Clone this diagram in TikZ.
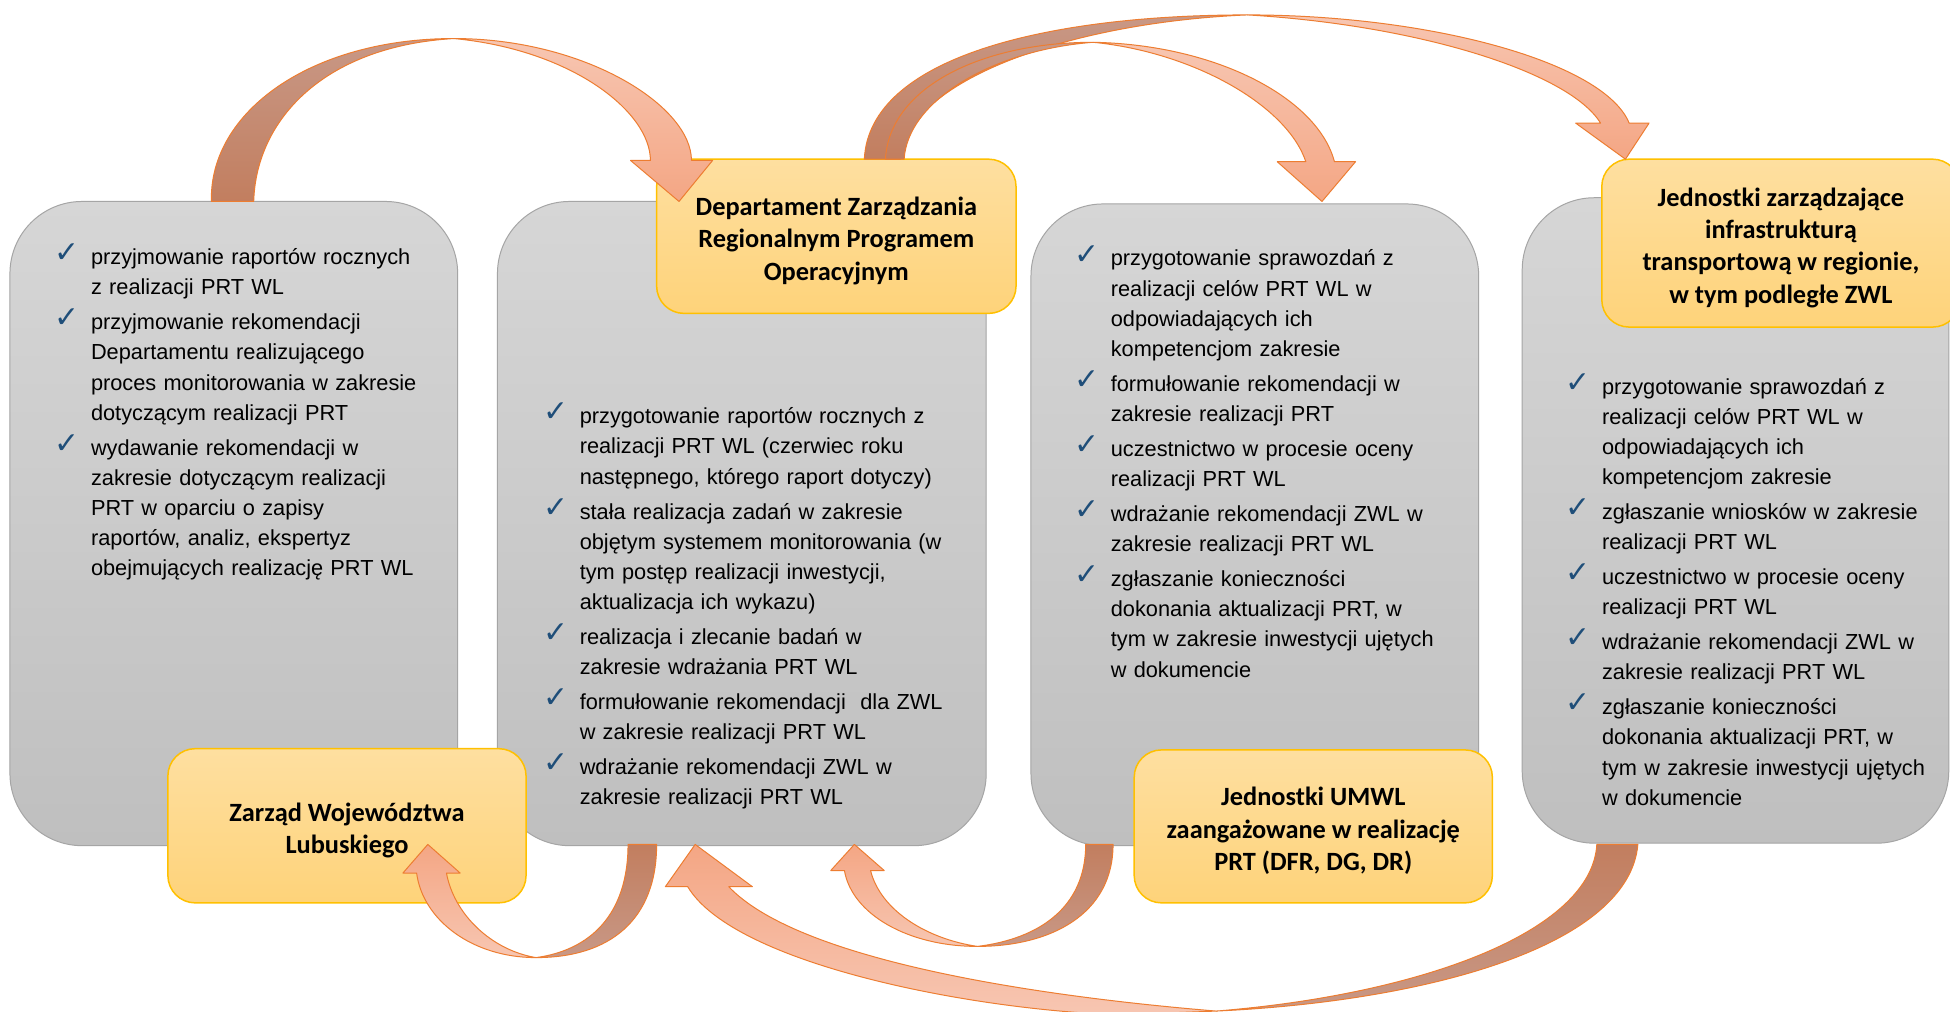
\documentclass[tikz,border=0pt]{standalone}
\usepackage{fontspec}
\setmainfont{Liberation Sans}
\newfontfamily\calib{Carlito}
\newfontfamily\dejavu{DejaVu Sans}
\definecolor{grayTop}{RGB}{214,214,214}
\definecolor{grayBot}{RGB}{191,191,191}
\definecolor{grayBorder}{RGB}{165,165,165}
\definecolor{yelTop}{RGB}{254,223,160}
\definecolor{yelBot}{RGB}{254,211,122}
\definecolor{goldLine}{RGB}{255,192,0}
\definecolor{chkblue}{RGB}{31,78,121}
\definecolor{arrLine}{RGB}{237,125,49}
\definecolor{lightTop}{RGB}{247,198,178}
\definecolor{lightBot}{RGB}{244,166,132}
\definecolor{darkFar}{RGB}{200,152,134}
\definecolor{darkTail}{RGB}{194,126,95}
\newcommand{\chk}{\leavevmode\llap{\raisebox{1.5pt}{\textcolor{chkblue}{\dejavu\fontsize{24}{24}\selectfont ✓}}\hspace{9pt}}\rule{0pt}{14pt}}
\newcommand{\ytop}{\rule{0pt}{22pt}}
\begin{document}
\begin{tikzpicture}[x=1pt,y=-1pt,
  graybox/.style={draw=grayBorder, line width=0.8pt, rounded corners=58pt, top color=grayTop, bottom color=grayBot, inner sep=0pt},
  yelbox/.style={draw=goldLine, line width=1.2pt, rounded corners=22pt, top color=yelTop, bottom color=yelBot, inner sep=0pt, align=center, font=\calib\bfseries\fontsize{21.2}{26}\selectfont},
  txt/.style={anchor=north west, inner sep=0pt, align=left, text width=330pt, font=\fontsize{17.5}{24.2}\selectfont},
  arrlight/.style={draw=arrLine, line width=0.8pt, line join=round, top color=lightTop, bottom color=lightBot},
  arrlightup/.style={draw=arrLine, line width=0.8pt, line join=round, top color=lightBot, bottom color=lightTop},
  arrdark/.style={draw=arrLine, line width=0.8pt, line join=round, top color=darkFar, bottom color=darkTail},
  arrdarkup/.style={draw=arrLine, line width=0.8pt, line join=round, top color=darkTail, bottom color=darkFar}]
\useasboundingbox (0,0) rectangle (1568,813);
\fill[white] (0,0) rectangle (1568,813);

% gray boxes
\node[graybox, minimum width=360pt, minimum height=518pt] (A) at (188,421) {};
\node[graybox, minimum width=393pt, minimum height=518pt] (B) at (596.5,421) {};
\node[graybox, minimum width=360pt, minimum height=516pt] (C) at (1009,422) {};
\node[graybox, minimum width=343pt, minimum height=519pt] (D) at (1395.5,418.5) {};

% yellow boxes
\node[yelbox, minimum width=289pt, minimum height=124pt] (Y1) at (672.5,190) {\ytop Departament Zarządzania\\Regionalnym Programem\\Operacyjnym};
\node[yelbox, minimum width=288pt, minimum height=135pt] (Y2) at (1432,195.5) {\ytop Jednostki zarządzające\\infrastrukturą\\transportową w regionie,\\w tym podległe ZWL};
\node[yelbox, minimum width=288pt, minimum height=124pt] (Y3) at (279,664) {\ytop Zarząd Województwa\\Lubuskiego};
\node[yelbox, minimum width=288pt, minimum height=123pt] (Y4) at (1056,664.5) {\ytop Jednostki UMWL\\zaangażowane w realizację\\PRT (DFR, DG, DR)};

% texts
\node[txt] (tA) at (73,196) {\chk przyjmowanie raportów rocznych\\ z realizacji PRT WL\\[4pt]
\chk przyjmowanie rekomendacji\\ Departamentu realizującego\\ proces monitorowania w zakresie\\ dotyczącym realizacji PRT\\[4pt]
\chk wydawanie rekomendacji w\\ zakresie dotyczącym realizacji\\ PRT w oparciu o zapisy\\ raportów, analiz, ekspertyz\\ obejmujących realizację PRT WL};

\node[txt] (tB) at (466,324) {\chk przygotowanie raportów rocznych z\\ realizacji PRT WL (czerwiec roku\\ następnego, którego raport dotyczy)\\[4pt]
\chk stała realizacja zadań w zakresie\\ objętym systemem monitorowania (w\\ tym postęp realizacji inwestycji,\\ aktualizacja ich wykazu)\\[4pt]
\chk realizacja i zlecanie badań w\\ zakresie wdrażania PRT WL\\[4pt]
\chk formułowanie rekomendacji~ dla ZWL\\ w zakresie realizacji PRT WL\\[4pt]
\chk wdrażanie rekomendacji ZWL w\\ zakresie realizacji PRT WL};

\node[txt] (tC) at (893,197) {\chk przygotowanie sprawozdań z\\ realizacji celów PRT WL w\\ odpowiadających ich\\ kompetencjom zakresie\\[4pt]
\chk formułowanie rekomendacji w\\ zakresie realizacji PRT\\[4pt]
\chk uczestnictwo w procesie oceny\\ realizacji PRT WL\\[4pt]
\chk wdrażanie rekomendacji ZWL w\\ zakresie realizacji PRT WL\\[4pt]
\chk zgłaszanie konieczności\\ dokonania aktualizacji PRT, w\\ tym w zakresie inwestycji ujętych\\ w dokumencie};

\node[txt] (tD) at (1288,300) {\chk przygotowanie sprawozdań z\\ realizacji celów PRT WL w\\ odpowiadających ich\\ kompetencjom zakresie\\[4pt]
\chk zgłaszanie wniosków w zakresie\\ realizacji PRT WL\\[4pt]
\chk uczestnictwo w procesie oceny\\ realizacji PRT WL\\[4pt]
\chk wdrażanie rekomendacji ZWL w\\ zakresie realizacji PRT WL\\[4pt]
\chk zgłaszanie konieczności\\ dokonania aktualizacji PRT, w\\ tym w zakresie inwestycji ujętych\\ w dokumencie};

% arrow 1: A -> Y1
\path[arrdark] (170,162) .. controls (168,90) and (250,31) .. (365,31) .. controls (262,37) and (206,95) .. (204,162) -- cycle;
\path[arrlight] (365,31) .. controls (470,31) and (556,85) .. (556,129) -- (573,129) -- (546,162) -- (507,129) -- (523,129) .. controls (523,90) and (460,40) .. (365,31) -- cycle;

% arrow 3: Y1 -> Y2
\path[arrdark] (695,128) .. controls (699,45) and (845,12) .. (1003,12) .. controls (860,18) and (728,65) .. (724,128) -- cycle;
\path[arrlight] (1003,12) .. controls (1150,12) and (1290,50) .. (1310,99) -- (1326,99) -- (1307,128) -- (1267,99) -- (1287,99) .. controls (1262,58) and (1140,20) .. (1003,12) -- cycle;

% arrow 2: Y1 -> C
\path[arrdark] (712,128) .. controls (715,70) and (790,34) .. (879,34) .. controls (800,40) and (730,80) .. (727,128) -- cycle;
\path[arrlight] (879,34) .. controls (980,36) and (1060,80) .. (1073,130) -- (1090,130) -- (1063,162) -- (1027,130) -- (1050,130) .. controls (1035,85) and (960,42) .. (879,34) -- cycle;

% arrow 4: B -> Y3
\path[arrdarkup] (528,679) .. controls (528,740) and (490,770) .. (431,770) .. controls (475,764) and (505,735) .. (505,679) -- cycle;
\path[arrlightup] (431,770) .. controls (380,770) and (340,740) .. (335,702) -- (324,702) -- (344,679) -- (370,702) -- (359,702) .. controls (365,735) and (395,764) .. (431,770) -- cycle;

% arrow 6: C -> B
\path[arrdarkup] (895,679) .. controls (895,735) and (845,761) .. (786,761) .. controls (835,755) and (873,730) .. (873,679) -- cycle;
\path[arrlightup] (786,761) .. controls (730,761) and (685,735) .. (679,700) -- (668,700) -- (687,679) -- (711,700) -- (700,700) .. controls (708,732) and (745,755) .. (786,761) -- cycle;

% arrow 5: D -> B
\path[arrdarkup] (1317,679) .. controls (1310,760) and (1150,805) .. (978,813) .. controls (1140,800) and (1280,750) .. (1284,679) -- cycle;
\path[arrlightup] (978,813) .. controls (820,800) and (640,770) .. (586,713) -- (605,713) -- (559,679) -- (535,713) -- (553,713) .. controls (590,775) and (780,812) .. (900,816) -- cycle;
\end{tikzpicture}
\end{document}
